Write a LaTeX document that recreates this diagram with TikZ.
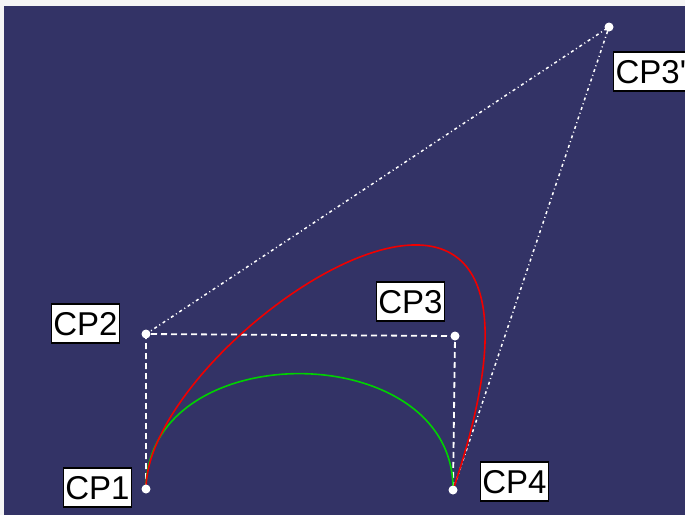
\documentclass[tikz,border=0pt]{standalone}
\usepackage{fontspec}
\setmainfont{Liberation Sans}
\definecolor{bgblue}{RGB}{51,51,102}
\definecolor{curvered}{RGB}{240,0,0}
\definecolor{curvegreen}{RGB}{0,210,0}
\begin{document}
\begin{tikzpicture}[x=1pt,y=-1pt,
  cpdot/.style={circle,fill=white,inner sep=0pt,minimum size=9pt},
  cplabel/.style={draw=black,line width=1.3pt,fill=white,inner sep=0pt,inner xsep=2pt,
    minimum width=67pt,minimum height=39pt,text height=23.6pt,text depth=0pt,
    font=\fontsize{33}{33}\selectfont},
  hull/.style={white,line width=1.8pt,dash pattern=on 6pt off 4pt},
  farhull/.style={white,line width=1.5pt,dash pattern=on 3pt off 3pt on 1pt off 3pt},
  curve/.style={line width=1.6pt}]
\useasboundingbox (0,0) rectangle (685,515);
\clip (0,0) rectangle (685,515);
\fill[white!92!gray] (0,0) rectangle (685,515);
\fill[bgblue] (4,6) rectangle (685,515);
% control points
\coordinate (p1) at (146,489);
\coordinate (p2) at (146,334);
\coordinate (p3) at (455,336);
\coordinate (p3b) at (609,27);
\coordinate (p4) at (453,490);
% hull lines
\draw[hull] (p1) -- (p2) -- (p3) -- (p4);
\draw[farhull] (p2) -- (p3b) -- (p4);
% curves
\draw[curve,curvegreen] (p1) .. controls (p2) and (p3) .. (p4);
\draw[curve,curvered] (p1) .. controls (p2) and (p3b) .. (p4);
% dots
\node[cpdot] (d1) at (p1) {};
\node[cpdot] (d2) at (p2) {};
\node[cpdot] (d3) at (p3) {};
\node[cpdot] (d3b) at (p3b) {};
\node[cpdot] (d4) at (p4) {};
% labels
\node[cplabel] (l1) at (97.5,487.5) {CP1};
\node[cplabel] (l2) at (85.5,323.5) {CP2};
\node[cplabel] (l3) at (410.5,301.5) {CP3};
\node[cplabel] (l4) at (514.5,481.5) {CP4};
\node[cplabel,anchor=west] (l3b) at (613,71.5) {CP3\textquotesingle};
\end{tikzpicture}
\end{document}
